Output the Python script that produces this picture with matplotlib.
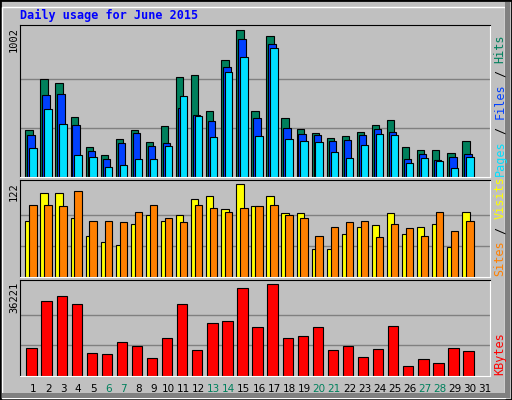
import matplotlib
matplotlib.use('Agg')
import matplotlib.pyplot as plt
from matplotlib.patches import Rectangle

# June 2015 daily stats
days = list(range(1, 31))
hits = [322, 669, 642, 410, 206, 152, 261, 322, 240, 349, 682, 696, 451, 798, 1002,
        451, 961, 404, 329, 302, 268, 281, 308, 356, 390, 206, 186, 186, 165, 247]
files = [288, 560, 567, 356, 179, 125, 233, 302, 213, 233, 472, 424, 383, 750, 941,
         404, 907, 336, 295, 288, 247, 254, 288, 329, 308, 125, 159, 118, 138, 159]
pages = [200, 465, 363, 152, 138, 70, 84, 125, 125, 213, 553, 417, 274, 716, 818,
         281, 880, 261, 247, 240, 172, 131, 220, 295, 288, 97, 131, 111, 63, 138]
sites = [74, 110, 110, 78, 54, 46, 42, 70, 82, 73, 82, 103, 106, 89, 122,
         93, 106, 84, 84, 37, 37, 56, 65, 68, 84, 56, 66, 69, 40, 85]
visits = [94, 94, 93, 113, 74, 73, 72, 85, 95, 78, 72, 94, 90, 85, 91,
          93, 94, 82, 78, 54, 66, 72, 73, 53, 70, 64, 54, 85, 60, 73]
kbytes = [11147, 29459, 31450, 28265, 9156, 8758, 13535, 11943, 7166, 15128,
          28265, 10351, 20701, 21497, 34634, 19109, 36221, 15128, 15924, 19109,
          10351, 11943, 7564, 10749, 19507, 3981, 6768, 5175, 11147, 9952]
weekend = [6, 7, 13, 14, 20, 21, 27, 28]

W, H = 512, 400
fig = plt.figure(figsize=(W / 100, H / 100), dpi=100)
fig.patch.set_facecolor('#C0C0C0')

# bevelled frame
fig.patches.append(Rectangle((0, 0), 1, 1, transform=fig.transFigure, fill=False,
                             edgecolor='black', lw=2))
fig.patches.append(Rectangle((2 / W, 2 / H), 1 - 9 / W, 1 - 9 / H, transform=fig.transFigure,
                             fill=False, edgecolor='white', lw=1))
fig.patches.append(Rectangle((505 / W, 2 / H), 5 / W, 1 - 4 / H, transform=fig.transFigure,
                             color='#808080', lw=0))
fig.patches.append(Rectangle((2 / W, 2 / H), 1 - 4 / W, 5 / H, transform=fig.transFigure,
                             color='#808080', lw=0))

fig.text(20 / W, 1 - 15 / H, 'Daily usage for June 2015', color='#0000FF',
         fontsize=8.5, fontweight='bold', family='DejaVu Sans Mono', va='center')

x0, x1 = 20, 490
xmin, xmax = 1 - 13 / 15.07, 31 + 5 / 15.07


def panel(top, bot, ymax):
    ax = fig.add_axes([x0 / W, 1 - bot / H, (x1 - x0) / W, (bot - top) / H])
    ax.set_facecolor('#C0C0C0')
    ax.set_xlim(xmin, xmax)
    ax.set_ylim(0, ymax)
    ax.set_xticks([])
    ax.set_yticks([])
    for s in ['top', 'left']:
        ax.spines[s].set_color('black')
    for s in ['bottom', 'right']:
        ax.spines[s].set_color('white')
    return ax


bk = dict(edgecolor='black', linewidth=0.8, align='edge')

ax1 = panel(25, 177, 1002 * 152 / 147.4)
for g in (1002 / 3, 1002 * 2 / 3):
    ax1.axhline(g, color='#808080', lw=1, zorder=0)
ax1.bar([d - 0.51 for d in days], hits, 0.49, color='#00805C', **bk)
ax1.bar([d - 0.38 for d in days], files, 0.49, color='#0040FF', **bk)
ax1.bar([d - 0.25 for d in days], pages, 0.49, color='#00E0FF', **bk)

ax2 = panel(180, 277, 122 * 96 / 92)
for g in (122 / 3, 122 * 2 / 3):
    ax2.axhline(g, color='#808080', lw=1, zorder=0)
ax2.bar([d - 0.51 for d in days], sites, 0.49, color='#FFFF00', **bk)
ax2.bar([d - 0.25 for d in days], visits, 0.49, color='#FF8000', **bk)

ax3 = panel(280, 376, 36221 * 95 / 91)
for g in (36221 / 3, 36221 * 2 / 3):
    ax3.axhline(g, color='#808080', lw=1, zorder=0)
ax3.bar([d - 0.44 for d in days], kbytes, 0.69, color='#FF0000', **bk)

# max labels on the left
mono = dict(family='DejaVu Sans Mono', fontsize=7.5, rotation=90, ha='center', va='top')
fig.text(14 / W, 1 - 27 / H, '1002', **mono)
fig.text(14 / W, 1 - 182 / H, '122', **mono)
fig.text(14 / W, 1 - 282 / H, '36221', **mono)

# legends on the right (monospace, so step per character is fixed)
FS = 8.5
STEP = 0.6 * FS * 100 / 72


def side(y_bottom, parts):
    y = y_bottom
    for txt, col in parts:
        n = len(txt)
        core = txt.strip()
        lead = len(txt) - len(txt.lstrip())
        fig.text(500 / W, 1 - (y - lead * STEP) / H, core, color=col,
                 family='DejaVu Sans Mono', fontsize=FS, rotation=90,
                 ha='center', va='bottom')
        y -= n * STEP


side(176, [('Pages', '#00E0FF'), (' / ', 'black'), ('Files', '#0040FF'),
           (' / ', 'black'), ('Hits', '#00805C')])
side(276, [('Sites', '#FF8000'), (' / ', 'black'), ('Visits', '#FFFF00')])
side(375, [('KBytes', '#FF0000')])

# day labels
for d in range(1, 32):
    xp = x0 + (d - xmin) / (xmax - xmin) * (x1 - x0)
    fig.text(xp / W, 1 - 389 / H, str(d), color='#00805C' if d in weekend else 'black',
             fontsize=7.5, ha='center', va='center')

fig.savefig('out.png', dpi=100, facecolor=fig.get_facecolor())
